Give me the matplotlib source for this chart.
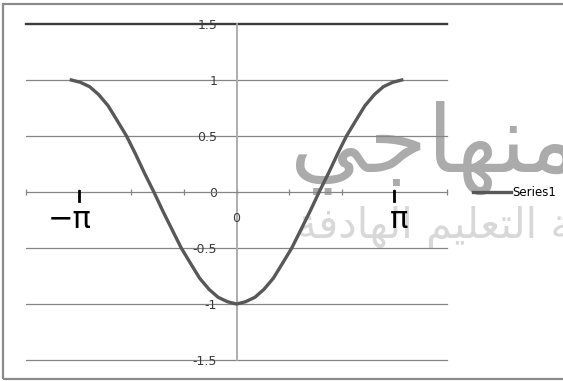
import matplotlib.pyplot as plt
from matplotlib.patches import Rectangle

# sampled points of the curve, x in radians from -pi to pi (10 degree steps)
x_vals = [-3.14, -2.97, -2.79, -2.62, -2.44, -2.27, -2.09, -1.92, -1.75, -1.57,
          -1.40, -1.22, -1.05, -0.87, -0.70, -0.52, -0.35, -0.17, 0.0,
          0.17, 0.35, 0.52, 0.70, 0.87, 1.05, 1.22, 1.40, 1.57,
          1.75, 1.92, 2.09, 2.27, 2.44, 2.62, 2.79, 2.97, 3.14]
y_vals = [1.0, 0.98, 0.94, 0.87, 0.77, 0.64, 0.5, 0.34, 0.17, 0.0,
          -0.17, -0.34, -0.5, -0.64, -0.77, -0.87, -0.94, -0.98, -1.0,
          -0.98, -0.94, -0.87, -0.77, -0.64, -0.5, -0.34, -0.17, 0.0,
          0.17, 0.34, 0.5, 0.64, 0.77, 0.87, 0.94, 0.98, 1.0]
y_ticks = [-1.5, -1, -0.5, 0, 0.5, 1, 1.5]
y_labels = ['-1.5', '-1', '-0.5', '0', '0.5', '1', '1.5']
x_ticks = [-4, -3, -2, -1, 0, 1, 2, 3, 4]
series_name = 'Series1'

# watermark text, already in presentation forms / visual order
logo = '\uFEF2\uFE9F\uFE8E\uFEEC\uFEE8\uFEE3'
slogan = ('\uFE94\uFED3\uFEA9\uFE8E\uFEEC\uFEDF\uFE8D' + ' ' +
          '\uFEE2\uFEF4\uFEE0\uFECC\uFE98\uFEDF\uFE8D' + ' ' +
          '\uFE94\uFEBC\uFEE8\uFEE3')

fig = plt.figure(figsize=(5.63, 3.81), dpi=100)
ax = fig.add_axes([26 / 563, 21 / 381, 421 / 563, 336 / 381])
ax.patch.set_visible(False)

fig.text(290 / 563, 1 - 172 / 381, logo, fontsize=68, color='#ababab',
         ha='left', va='baseline', zorder=-1)
fig.text(296 / 563, 1 - 238 / 381, slogan, fontsize=30, color='#d8d8d8',
         ha='left', va='baseline', zorder=-1)

# horizontal gridlines, the top one heavier
for yv in y_ticks:
    if yv == 1.5:
        ax.axhline(yv, color='#3a3a3a', lw=1.7, zorder=1, clip_on=False)
    elif yv != 0:
        ax.axhline(yv, color='#858585', lw=0.9, zorder=1, clip_on=False)

ax.plot(x_vals, y_vals, color='#585858', lw=2.4, label=series_name, zorder=3,
        solid_joinstyle='round')

ax.set_xlim(-4, 4)
ax.set_ylim(-1.5, 1.5)

for s in ['top', 'right']:
    ax.spines[s].set_visible(False)
ax.spines['bottom'].set_position(('data', 0))
ax.spines['bottom'].set_color('#858585')
ax.spines['bottom'].set_linewidth(0.9)
ax.spines['left'].set_position(('data', 0))
ax.spines['left'].set_color('#a8a8a8')
ax.spines['left'].set_linewidth(1.3)

ax.set_xticks(x_ticks)
ax.set_xticklabels([])
ax.tick_params(axis='x', direction='inout', length=5, width=0.9, color='#858585')
ax.set_yticks(y_ticks)
ax.set_yticklabels(y_labels)
ax.tick_params(axis='y', length=0, pad=14, labelsize=9, labelcolor='#3c3c3c')

ax.text(0, -0.24, '0', ha='center', va='center', fontsize=9, color='#3c3c3c')

# pi markers on the x axis
for xv in [-3, 3]:
    ax.plot([xv, xv], [0.01, -0.08], color='black', lw=2, zorder=4)
ax.text(-3.17, -0.25, '\u2212\u03c0', ha='center', va='center', fontsize=22)
ax.text(3.08, -0.25, '\u03c0', ha='center', va='center', fontsize=22)

fig.legend(loc='center left', bbox_to_anchor=(473 / 563, 1 - 193 / 381),
           frameon=False, fontsize=8.5, handlelength=3.2, handletextpad=0.1,
           borderpad=0, borderaxespad=0)

fig.add_artist(Rectangle((3 / 563, 1 - 379 / 381), 1.0, 375 / 381,
                         transform=fig.transFigure, fill=False,
                         edgecolor='#8a8a8a', lw=1.6))

fig.savefig('out.png', dpi=100)
